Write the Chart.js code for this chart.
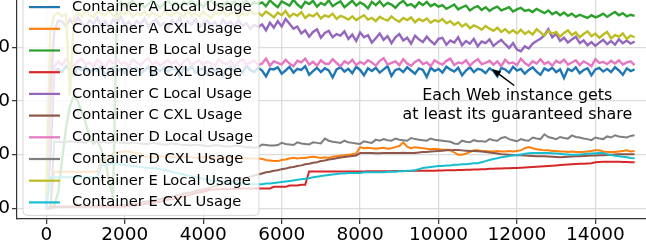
<!DOCTYPE html>
<html>
<head>
<meta charset="utf-8">
<script src="https://cdn.jsdelivr.net/npm/chart.js@4.4.1/dist/chart.umd.min.js"></script>
<style>
  html, body { margin: 0; padding: 0; background: #fff; overflow: hidden; }
  #wrap { position: relative; width: 646px; height: 244px; overflow: hidden; background: #fff; }
  #chart { position: absolute; left: -60px; top: -30px; }
</style>
</head>
<body>
<div id="wrap"><canvas id="chart" width="740" height="280"></canvas></div>
<script>
// Sampling grid (time steps), one value every 100 steps
const STEP = 100;
const TIMES = Array.from({ length: 151 }, (_, i) => i * STEP);

// Tick labels
const X_TICKS = [0, 2000, 4000, 6000, 8000, 10000, 12000, 14000];
const Y_TICKS = [0, 10, 20, 30, 40];

// Series names
const LABELS = [
    'Container A Local Usage', 'Container A CXL Usage',
    'Container B Local Usage', 'Container B CXL Usage',
    'Container C Local Usage', 'Container C CXL Usage',
    'Container D Local Usage', 'Container D CXL Usage',
    'Container E Local Usage', 'Container E CXL Usage'
];

// Series values
const A_LOCAL = [0.0, 10.0, 25.5,
    26.0, 25.4, 26.5, 25.7, 24.9, 26.2, 25.8, 26.4, 25.3, 26.1,
    25.6, 26.6, 24.6, 25.9, 26.3, 25.5, 26.0, 25.2, 26.5, 25.8,
    26.2, 25.1, 25.7, 26.4, 24.8, 26.0, 25.6, 26.3, 25.4, 26.1,
    25.9, 24.5, 26.2, 25.7, 26.5, 25.3, 25.8, 26.1, 25.0, 26.3,
    25.6, 26.0, 24.7, 25.9, 26.4, 25.5, 26.1, 25.2, 26.6, 25.8,
    25.4, 26.2, 25.7, 24.6, 26.0, 25.9, 26.3, 25.1, 25.7, 26.4,
    25.3, 26.0, 25.8, 26.5, 24.9, 25.6, 26.2, 25.4, 26.1, 25.7,
    24.4, 25.9, 26.3, 25.5, 26.0, 25.2, 26.4, 25.8, 24.8, 26.1,
    25.6, 26.2, 25.3, 25.9, 26.5, 24.7, 25.8, 26.0, 25.4, 26.3,
    25.7, 25.1, 26.1, 25.8, 24.5, 26.2, 25.6, 26.0, 25.3, 26.4,
    25.9, 25.5, 26.2, 24.8, 25.7, 26.3, 25.4, 26.0, 25.8, 25.2,
    26.1, 25.6, 24.6, 26.2, 25.9, 25.3, 26.4, 25.7, 26.0, 25.1,
    25.8, 26.3, 25.5, 24.9, 26.1, 25.7, 26.2, 25.4, 25.9, 24.3,
    26.0, 25.6, 26.3, 25.2, 25.8, 26.1, 24.8, 25.9, 26.2, 25.5,
    26.0, 25.4, 26.3, 25.7, 24.9, 26.1, 25.6, 25.9];

const A_CXL = [0.0, 0.0,
    6.8, 6.8, 6.8, 6.8, 6.8, 6.8, 6.8, 6.8, 6.8, 6.8, 6.8, 6.8,
    9.0, 9.0, 9.2,
    10.3, 10.5, 10.5, 10.6, 10.6, 10.4, 10.3, 10.2,
    9.6, 9.6, 9.5, 9.5, 9.7, 9.6, 9.6, 9.5, 9.5, 9.4,
    9.6, 9.5, 9.5, 9.4, 9.4, 9.6, 9.5, 9.5, 9.4, 9.4,
    9.3, 9.5, 9.4, 9.4, 9.3, 9.3, 9.4, 9.3, 9.3, 9.35,
    9.2, 9.0, 8.9, 8.8, 8.8, 9.0, 9.1, 9.3, 9.4, 9.3,
    9.4, 9.4, 9.5, 9.6, 9.5, 9.4, 9.5, 9.4, 9.6, 9.7,
    9.8, 9.9, 10.0, 10.1, 10.2, 11.4, 11.2, 11.3, 11.2, 11.1,
    11.2, 11.3, 11.1, 11.2, 11.4, 11.6, 12.3, 11.5, 11.2, 11.4,
    11.3, 11.2, 11.1, 11.0, 11.1, 11.0, 10.9, 10.9, 10.9, 10.4,
    10.0, 10.0, 10.2, 10.5, 10.8, 10.8, 10.7, 10.7, 10.6, 10.6,
    10.7, 10.6, 10.6, 10.7, 10.6, 10.7, 10.8, 11.2, 11.4, 11.2,
    11.0, 10.9, 10.8, 10.8, 10.7, 10.7, 10.6, 10.6, 10.5, 10.6,
    10.5, 10.5, 10.5, 10.6, 10.7, 10.8, 10.8, 10.6, 10.5, 10.5,
    10.5, 10.6, 10.7, 10.8, 10.6, 10.7];

const B_LOCAL = [0.0, 0.0, 0.5, 3.0, 9.0, 15.0, 19.0, 21.0, 20.0, 18.0,
    16.0, 13.0, 12.0, 12.5, 11.0, 9.0, 5.0, 2.0,
    37.8, 38.5, 37.6, 38.2, 38.7, 37.7, 38.3, 37.5, 38.1, 38.8,
    38.0, 37.4, 38.2, 38.6, 37.9, 38.4, 37.6, 38.5, 38.1, 38.7,
    37.8, 38.3, 37.5, 38.4, 38.8, 37.9, 38.2, 37.7, 38.5, 38.0,
    38.6, 37.8, 38.3, 38.7, 37.9, 38.4, 38.1,
    38.4, 37.7, 38.8, 38.1, 37.5, 38.6, 38.2, 37.8, 38.9, 38.0,
    37.4, 38.5, 38.1, 38.7, 37.6, 38.3, 37.9, 38.8, 37.7, 38.2,
    38.6, 37.5, 38.1, 38.7, 37.8, 38.4, 38.0, 37.3, 38.5, 37.9,
    38.6, 37.7, 38.3, 38.0, 37.4, 38.2, 38.7, 37.8, 38.1, 37.5,
    38.4, 37.9, 38.5, 37.7, 38.1, 37.6,
    37.9, 37.2, 37.6, 38.0, 37.1, 37.5, 37.8, 36.9, 37.4, 37.7,
    37.0, 37.5, 36.8, 37.3, 37.6, 36.9, 37.2, 37.5, 36.7, 37.1,
    37.4, 36.8, 37.0, 36.6, 37.2,
    36.8, 36.4, 36.9, 36.2, 36.6, 36.0, 36.5, 35.9, 36.3, 35.7,
    36.1, 35.8, 35.5, 36.0, 35.6,
    35.9, 36.3, 35.7, 36.2, 36.6, 36.0, 36.4, 35.8, 36.1, 35.9];

const B_CXL = [0.0,
    0.3, 0.3, 0.3, 0.3, 0.3, 0.3, 0.3, 0.3, 0.3, 0.3,
    0.3, 0.3, 0.3, 0.3, 0.3, 0.3, 0.3, 0.3, 0.3, 0.3,
    0.4, 0.5, 0.5, 0.6, 0.8, 0.9, 1.0, 1.1, 1.2,
    1.4, 1.6, 1.7, 1.9, 2.0, 2.2, 2.4, 2.6, 2.8, 3.0, 3.1, 3.3, 3.5, 3.5, 3.6,
    3.6, 3.6, 3.6, 3.6, 3.7, 3.7, 3.7, 3.7, 3.7, 3.7,
    3.7, 3.7, 3.7, 4.0, 4.0, 4.0, 4.0, 4.25, 4.25, 4.25,
    4.4, 4.4, 6.85, 6.85, 6.85, 6.85, 6.85, 6.85, 6.85, 6.85,
    6.85, 6.85, 6.85, 6.85, 6.85, 6.85, 6.85, 6.9, 6.9, 6.9,
    6.9, 6.9, 6.9, 6.9, 6.95, 6.95, 6.95, 6.95, 6.95, 7.0,
    7.0, 7.0, 7.0, 7.0, 7.0, 7.05, 7.05, 7.1, 7.1, 7.1,
    7.15, 7.15, 7.2, 7.2, 7.25, 7.25, 7.3, 7.3, 7.35, 7.35,
    7.4, 7.4, 7.45, 7.45, 7.5, 7.5, 7.55, 7.6, 7.65, 7.7,
    7.75, 7.8, 7.85, 7.9, 7.95, 8.0, 8.05, 8.1, 8.15, 8.2,
    8.25, 8.3, 8.3, 8.35, 8.4, 8.6, 8.65, 8.7, 8.7, 8.7,
    8.7, 8.7, 8.65, 8.65, 8.6, 8.6];

const C_LOCAL = [0.0, 22.0, 33.0, 35.0,
    34.8, 33.9, 35.3, 34.2, 35.6, 34.6, 33.8, 35.1, 34.4, 35.5,
    34.0, 34.9, 33.7, 35.2, 34.5, 35.7, 34.1, 34.8, 33.6, 35.0,
    34.3, 35.4, 33.9, 34.7, 35.2, 34.0, 34.6, 33.5, 35.1, 34.4,
    35.5, 33.8, 34.9, 34.2, 35.3, 33.7, 34.6, 35.0, 34.1, 34.7,
    33.6, 35.2, 34.3, 34.8, 33.9, 35.1, 34.0, 34.5, 33.5, 34.2,
    33.8,
    34.3, 33.2, 34.6, 33.7, 34.9, 33.9, 35.3, 34.4, 33.5, 33.9,
    32.6, 33.2, 32.0, 32.9, 33.4, 31.8, 32.7, 33.1, 31.9, 32.5, 32.2,
    33.0, 31.6, 32.4, 31.2, 32.8, 31.9, 32.3, 30.9, 31.7, 32.6,
    31.4, 32.1, 30.8, 31.9, 32.5, 31.3, 31.8, 30.7, 32.2, 31.5,
    31.0, 32.0, 31.2, 30.6, 31.6,
    31.8, 30.5, 31.3, 30.9, 31.9, 30.4, 31.2, 30.7, 31.6, 30.2,
    31.1, 30.8, 31.5, 30.3, 30.9, 31.4, 30.6, 29.9, 30.8, 29.6,
    29.3, 30.2, 29.8, 30.7, 31.2,
    31.6, 32.3, 33.4, 31.9, 32.5, 31.2, 31.8, 30.9, 31.5, 32.0,
    30.8, 31.3, 30.4, 31.0, 30.3, 30.9, 31.4, 30.6, 31.2, 30.5,
    31.5, 30.8, 31.3, 30.7, 31.1];

const C_CXL = [0.0, 0.0, 0.2, 0.2, 0.3, 0.3, 0.3, 0.3, 0.4, 0.4,
    0.4, 0.4, 0.4, 0.5, 0.5, 0.5, 0.5, 0.5, 0.5, 0.6,
    0.6, 0.7, 0.8, 0.9, 1.0, 1.2, 1.3, 1.4, 1.6, 1.7, 1.9,
    2.0, 2.2, 2.4, 2.5, 2.7, 2.9, 3.0, 3.2, 3.4, 3.5, 3.7, 3.9,
    4.1, 4.3, 4.5, 4.7, 4.9, 5.1, 5.3, 5.5, 5.7, 5.9, 6.1, 6.3,
    6.5, 6.7, 6.8, 7.0, 7.1, 7.3, 7.4, 7.6, 7.7, 7.9,
    8.0, 8.2, 8.3, 8.5, 8.6, 8.8, 8.9, 9.1, 9.2, 9.35,
    9.45, 9.55, 9.65, 9.75, 9.85, 10.3, 10.3, 10.3, 10.3, 10.25,
    10.25, 10.3, 10.3, 10.3, 10.3, 10.3, 10.35, 10.3, 10.3, 10.3,
    10.4, 10.5, 10.5, 10.6, 10.65, 10.7, 10.75, 10.8, 10.8, 10.85,
    10.85, 10.8, 10.75, 10.7, 10.7, 10.65, 10.6, 10.5, 10.4, 10.3,
    10.2, 10.1, 10.05, 10.0, 9.95, 9.9, 9.9, 9.85, 9.8, 9.75,
    9.7, 9.7, 9.7, 9.65, 9.6, 9.55, 9.5, 9.55, 9.6, 9.65,
    9.7, 9.7, 9.75, 9.8, 9.85, 9.85, 9.9, 9.9, 9.95, 10.0,
    10.05, 10.1, 10.1, 10.1, 10.1, 10.1];

const D_LOCAL = [0.0, 14.0, 26.5,
    27.4, 26.7, 27.8, 27.0, 26.5, 27.5, 27.9, 26.8, 27.2, 26.6,
    27.7, 27.1, 26.4, 27.6, 27.0, 27.9, 26.9, 27.3, 26.5, 27.8,
    27.2, 26.7, 27.5, 28.0, 26.8, 27.4, 26.6, 27.1, 27.7, 26.9,
    27.5, 26.5, 27.3, 27.9, 26.8, 27.2, 27.6, 26.7, 27.4, 27.0,
    26.6, 27.8, 27.1, 26.9, 27.5, 26.4, 27.3, 27.8, 26.8, 27.2,
    27.6, 26.7, 27.0, 27.9, 26.6, 27.4, 27.1, 26.8, 27.7, 27.0,
    26.5, 27.5, 27.2, 27.9, 26.8, 27.3, 26.6, 27.6, 27.0, 26.9,
    27.8, 27.1, 26.5, 27.4, 27.0, 27.7, 26.7, 27.3, 26.9, 27.6,
    27.2, 26.6, 27.5, 28.0, 26.8, 27.1, 27.4, 26.7, 27.8, 27.0,
    26.6, 27.3, 27.7, 26.9, 27.2, 26.5, 27.6, 27.1, 26.8, 27.5,
    27.9, 26.7, 27.2, 27.0, 27.6, 26.6, 27.3, 27.8, 26.9, 27.1,
    27.5, 26.8, 27.4, 26.5, 27.7, 27.0, 27.2, 26.7, 27.9, 27.1,
    26.6, 27.4, 27.0, 27.8, 26.9, 27.3, 26.6, 27.5, 27.1, 27.7,
    26.8, 27.2, 27.6, 26.7, 27.4, 27.0, 26.5, 27.8, 27.1, 27.3,
    26.9, 27.5, 27.0, 27.6, 26.8, 27.2, 27.4, 26.7];

const D_CXL = [0.0, 0.0,
    12.4, 12.4, 12.3, 12.3, 12.5, 12.4, 12.3, 12.3, 12.2, 12.6,
    12.5, 12.4, 12.3, 12.3, 12.2, 12.4, 12.3, 12.2, 12.2, 12.1,
    12.3, 12.2, 12.1, 12.0, 12.0, 12.2, 12.1, 12.0, 11.9, 11.9,
    12.1, 12.0, 11.9, 11.8, 11.8, 11.7, 11.9, 11.8, 11.7, 11.6,
    11.6, 11.8, 11.7, 11.6, 11.5, 11.5, 11.7, 11.6, 11.5, 11.4,
    11.4, 11.3, 11.4,
    11.9, 11.8, 11.7, 11.7, 11.8, 12.2, 12.0, 11.9, 11.8, 12.3,
    12.1, 12.0, 11.9, 12.3, 12.2, 12.1, 13.0, 12.6, 12.4, 12.3,
    12.2, 12.6, 12.3, 12.2, 12.1, 12.0, 12.5, 12.3, 12.2, 12.8,
    12.6, 12.9, 12.7, 12.6, 13.0, 12.8, 12.7, 12.6, 13.1, 12.9,
    12.8, 12.7, 12.6, 13.0, 12.8, 12.7, 12.6, 12.5, 12.4, 12.1,
    12.0, 12.6, 12.4, 12.3, 12.7, 12.5, 12.5, 12.4, 12.9, 12.7,
    12.6, 13.1, 13.3, 12.9, 12.7, 12.5, 12.9, 12.7, 12.6, 13.2,
    13.0, 12.9, 13.8, 13.3, 13.1, 12.9, 13.3, 13.1, 13.0, 13.6,
    13.3, 13.2, 13.0, 12.9, 12.7, 13.2, 13.0, 12.9, 13.4, 13.2,
    13.6, 13.4, 13.3, 13.2, 13.5, 13.6];

const E_LOCAL = [2.0, 33.0, 36.0, 36.5, 35.8, 36.2, 21.0, 35.5,
    36.5, 35.8, 36.9, 36.1, 35.6, 36.7, 36.3, 35.9, 36.8, 36.0,
    35.5, 36.6, 36.2, 36.9, 35.7, 36.4, 36.0, 36.7, 35.8, 36.5,
    36.1, 35.6, 36.8, 36.2, 35.9, 36.6, 36.3, 35.7, 36.9, 36.0,
    36.4, 35.8, 36.7, 36.1, 35.5, 36.5, 36.2, 36.8, 35.9, 36.3,
    36.6, 35.7, 36.4, 36.0, 36.9, 36.2, 36.5,
    35.9, 36.7, 36.2, 35.6, 36.5, 36.0, 36.8, 35.7, 36.3, 35.9,
    36.6, 35.5, 36.1, 35.8, 36.4, 35.4, 36.0, 35.7, 36.3, 35.3,
    35.9, 35.6, 35.2,
    35.8, 35.1, 35.6, 36.0, 35.2, 35.5, 34.9, 35.7, 35.3, 35.0,
    35.8, 35.2, 34.8, 35.5, 35.1, 35.6, 34.7, 35.3, 34.9, 35.4,
    34.6, 35.1, 34.8, 35.3, 34.5, 34.9,
    34.2, 34.7, 33.9, 34.4, 33.6, 34.1, 33.8, 33.3, 34.0, 33.5,
    33.1, 33.7, 32.9, 33.4, 32.7, 33.2, 32.6,
    33.3, 32.5, 33.0, 32.4, 33.4, 32.8, 32.2, 33.1, 32.6, 32.9,
    32.0, 32.7, 33.2, 32.3, 32.8, 31.9, 32.5, 33.0, 32.1, 32.6,
    31.8, 32.4, 32.9, 31.7, 32.3, 32.0, 32.6, 31.6, 32.2, 31.9];

const E_CXL = [0.0,
    5.8, 5.8, 5.8, 5.8, 5.8, 5.8, 5.8, 5.8, 5.8, 5.8, 5.8, 5.8, 5.8,
    8.0, 8.1, 8.2, 8.4,
    8.3, 8.2, 8.1, 8.0, 7.9, 7.8, 7.7, 7.6, 7.5, 7.5,
    7.4, 7.3, 7.2, 7.0, 6.8, 6.6, 6.5, 6.3, 6.1, 6.0,
    5.8, 5.6, 5.5, 5.3, 5.2, 5.1, 5.0, 4.9, 4.9, 4.8,
    4.7, 4.7, 4.6, 4.6, 4.5, 4.5, 4.5,
    4.5, 4.6, 4.6, 4.7, 4.8, 4.9, 5.0, 5.1, 5.2, 5.3,
    5.4, 5.5, 5.6, 5.8, 5.9, 6.0, 6.1, 6.2, 6.3, 6.4,
    6.5, 6.5, 6.6, 6.6, 6.6, 6.6, 6.7, 6.7, 6.7, 6.7,
    6.7, 6.7, 6.8, 6.8, 6.8, 6.9, 6.9, 7.0, 7.0, 7.1,
    7.3, 7.5, 7.6, 7.7, 7.8, 7.9, 7.9, 8.0, 8.0, 8.1,
    8.1, 8.2, 8.2, 8.3, 8.4, 8.4, 8.6, 8.8, 9.0, 9.2,
    9.35, 9.5, 9.6, 9.75, 9.85, 9.95, 10.05, 10.15, 10.25, 10.3,
    10.3, 10.3, 10.3, 10.3, 10.25, 10.2, 10.15, 10.1, 10.05, 10.0,
    10.0, 10.05, 10.1, 10.15, 10.2, 10.25, 10.3, 10.3, 10.1, 9.95,
    9.8, 9.7, 9.6, 9.5, 9.4, 9.35];

const SERIES = [A_LOCAL, A_CXL, B_LOCAL, B_CXL, C_LOCAL, C_CXL, D_LOCAL, D_CXL, E_LOCAL, E_CXL];

// Annotation (data coordinates)
const NOTE_LINES = ['Each Web instance gets', 'at least its guaranteed share'];
const NOTE_TARGET = [11360, 26.0];
const NOTE_FROM = [11930, 22.9];
const NOTE_TEXT_AT = [12010, 20.2];

// Styling
const COLORS = ['#1f77b4', '#ff7f0e', '#2ca02c', '#d62728', '#9467bd',
                '#8c564b', '#e377c2', '#7f7f7f', '#bcbd22', '#17becf'];
const FONT = 'DejaVu Sans';

// Legend box + annotation drawn on top of the lines
const overlayPlugin = {
    id: 'overlay',
    afterDatasetsDraw(chart) {
        const { ctx, chartArea, scales } = chart;
        ctx.save();

        // legend frame
        const left = chartArea.left + 6;
        const top = chartArea.top + 11;
        const rowH = 21.7;
        const w = 236;
        const h = rowH * (chart.data.datasets.length - 1) + 26;
        ctx.beginPath();
        ctx.roundRect(left, top, w, h, 4);
        ctx.fillStyle = 'rgba(255,255,255,0.8)';
        ctx.fill();
        ctx.strokeStyle = 'rgba(204,204,204,0.8)';
        ctx.lineWidth = 1;
        ctx.stroke();

        ctx.font = `14.7px "${FONT}"`;
        ctx.textBaseline = 'middle';
        ctx.textAlign = 'left';
        chart.data.datasets.forEach((ds, i) => {
            const cy = top + 13 + i * rowH;
            ctx.strokeStyle = ds.borderColor;
            ctx.lineWidth = 2.2;
            ctx.beginPath();
            ctx.moveTo(left + 6, cy);
            ctx.lineTo(left + 37, cy);
            ctx.stroke();
            ctx.fillStyle = '#000';
            ctx.fillText(ds.label, left + 49, cy);
        });

        // annotation arrow
        const hx = scales.x.getPixelForValue(NOTE_TARGET[0]);
        const hy = scales.y.getPixelForValue(NOTE_TARGET[1]);
        const fx = scales.x.getPixelForValue(NOTE_FROM[0]);
        const fy = scales.y.getPixelForValue(NOTE_FROM[1]);
        const ang = Math.atan2(hy - fy, hx - fx);
        ctx.strokeStyle = '#000';
        ctx.fillStyle = '#000';
        ctx.lineWidth = 1.5;
        ctx.beginPath();
        ctx.moveTo(fx, fy);
        ctx.lineTo(hx - Math.cos(ang) * 6, hy - Math.sin(ang) * 6);
        ctx.stroke();
        ctx.beginPath();
        ctx.moveTo(hx, hy);
        ctx.lineTo(hx - Math.cos(ang) * 9 + Math.sin(ang) * 3.5, hy - Math.sin(ang) * 9 - Math.cos(ang) * 3.5);
        ctx.lineTo(hx - Math.cos(ang) * 9 - Math.sin(ang) * 3.5, hy - Math.sin(ang) * 9 + Math.cos(ang) * 3.5);
        ctx.closePath();
        ctx.fill();

        // annotation text
        ctx.font = `15.9px "${FONT}"`;
        ctx.textAlign = 'center';
        ctx.textBaseline = 'alphabetic';
        const tx = scales.x.getPixelForValue(NOTE_TEXT_AT[0]);
        const ty = scales.y.getPixelForValue(NOTE_TEXT_AT[1]);
        NOTE_LINES.forEach((line, i) => ctx.fillText(line, tx, ty + i * 18.7));

        ctx.restore();
    }
};

// Local usage series are the noisy ones and look a bit heavier
const datasets = SERIES.map((vals, i) => ({
    label: LABELS[i],
    data: TIMES.map((t, k) => ({ x: t, y: vals[k] })),
    borderColor: COLORS[i],
    backgroundColor: COLORS[i],
    borderWidth: i % 2 === 0 ? 2.4 : 2,
    pointRadius: 0,
    tension: 0,
    fill: false,
    order: SERIES.length - i
}));

const tickFont = { family: FONT, size: 18.5 };

new Chart(document.getElementById('chart'), {
    type: 'line',
    data: { datasets },
    options: {
        responsive: false,
        animation: false,
        events: [],
        layout: { padding: { left: 0, right: 16, top: 13, bottom: 0 } },
        plugins: {
            legend: { display: false },
            tooltip: { enabled: false }
        },
        scales: {
            x: {
                type: 'linear',
                min: -750,
                max: 15750,
                afterBuildTicks: s => { s.ticks = X_TICKS.map(v => ({ value: v })); },
                afterFit: s => { s.height = 31; },
                ticks: { font: tickFont, color: '#000', padding: 0, maxRotation: 0, autoSkip: false,
                         callback: v => String(v) },
                grid: { color: '#dcdcdc', lineWidth: 1.3, tickLength: 5, tickColor: '#333', tickWidth: 1.2 },
                border: { color: '#333', width: 1.2 }
            },
            y: {
                type: 'linear',
                min: -2,
                max: 42,
                afterBuildTicks: s => { s.ticks = Y_TICKS.map(v => ({ value: v })); },
                afterFit: s => { s.width = 77; },
                ticks: { font: tickFont, color: '#000', padding: 2, callback: v => String(v) },
                grid: { color: '#dcdcdc', lineWidth: 1.3, tickLength: 5, tickColor: '#333', tickWidth: 1.2 },
                border: { color: '#333', width: 1.2 }
            }
        }
    },
    plugins: [overlayPlugin]
});
</script>
</body>
</html>
